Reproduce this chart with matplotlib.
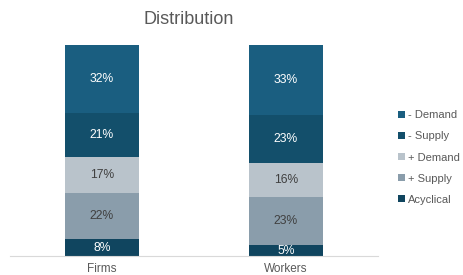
import matplotlib.pyplot as plt
import numpy as np

plt.rcParams['font.family'] = ['Liberation Sans', 'DejaVu Sans']

groups = ['Firms', 'Workers']
series = ['Acyclical', '+ Supply', '+ Demand', '- Supply', '- Demand']
acyclical = [8, 5]
pos_supply = [22, 23]
pos_demand = [17, 16]
neg_supply = [21, 23]
neg_demand = [32, 33]

values = [acyclical, pos_supply, pos_demand, neg_supply, neg_demand]
colors = ['#10455f', '#8a9dab', '#b9c3cb', '#134f6b', '#1a5e80']
text_colors = ['white', '#404040', '#404040', 'white', 'white']

fig = plt.figure(figsize=(4.63, 2.75), dpi=100)
ax = fig.add_axes([0.0216, 0.069, 0.7948, 0.767])

x = np.arange(len(groups))
bottom = np.zeros(len(groups))
handles = []
for name, vals, col, tc in zip(series, values, colors, text_colors):
    vals = np.array(vals, dtype=float)
    bars = ax.bar(x, vals, 0.4, bottom=bottom, color=col, label=name)
    handles.append(bars)
    for xi, b, v in zip(x, bottom, vals):
        ax.text(xi, b + v / 2, '{:d}%'.format(int(v)), ha='center', va='center',
                fontsize=8.7, color=tc)
    bottom += vals

ax.set_xlim(-0.5, 1.5)
ax.set_ylim(0, 100)
ax.set_xticks(x)
ax.set_xticklabels(groups, fontsize=8.5, color='#595959')
ax.tick_params(axis='x', length=0, pad=5)
ax.set_yticks([])
for s in ['top', 'right', 'left']:
    ax.spines[s].set_visible(False)
ax.spines['bottom'].set_color('#d9d9d9')

fig.text(0.407, 0.928, 'Distribution', ha='center', va='center', fontsize=13, color='#595959')

leg = fig.legend(handles[::-1], series[::-1], loc='center left', bbox_to_anchor=(0.838, 0.427),
                 frameon=False, fontsize=8, handlelength=0.6, handleheight=0.6,
                 handletextpad=0.3, labelspacing=1.0, labelcolor='#595959')

fig.savefig('out.png', dpi=100)
